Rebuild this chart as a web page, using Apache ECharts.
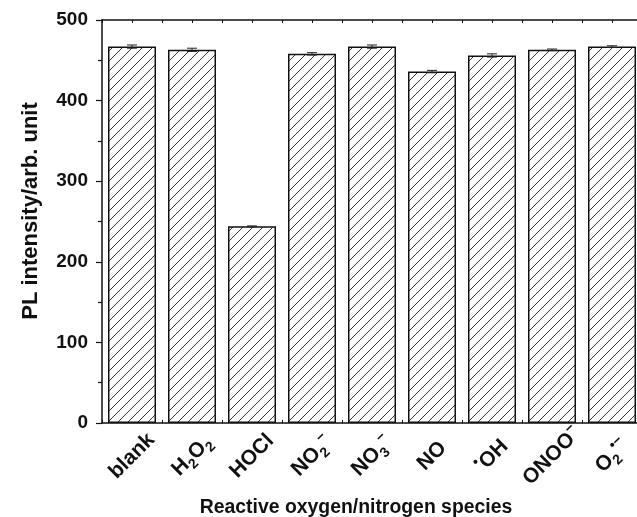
<!DOCTYPE html>
<html>
<head>
<meta charset="utf-8">
<script src="https://cdn.jsdelivr.net/npm/echarts@6/dist/echarts.min.js"></script>
<style>
html,body{margin:0;padding:0;background:#fff;}
#chart{width:637px;height:517px;}
</style>
</head>
<body>
<div id="chart"></div>
<script>
// ---- data ----
const categories = ['blank', 'H2O2', 'HOCl', 'NO2-', 'NO3-', 'NO', 'OH', 'ONOO-', 'O2-'];
const categoryLabels = [
  'blank',
  'H{sub|2}O{sub|2}',
  'HOCl',
  'NO{sub|2}{sup|\u2212}',
  'NO{sub|3}{sup|\u2212}',
  'NO',
  '{sup|\u2022}OH',
  'ONOO{sup|\u2212}',
  'O{sub|2}{sup|\u2022\u2212}'
];
const intensity = [467, 463, 244, 458, 467, 436, 456, 463, 467];
const errors = [2, 2, 0.5, 1.5, 2, 1.5, 2, 1, 1];
const yTicks = [0, 100, 200, 300, 400, 500];

function hatch() {
  const c = document.createElement('canvas');
  const p = 10;
  c.width = p; c.height = p;
  const g = c.getContext('2d');
  g.fillStyle = '#fff';
  g.fillRect(0, 0, p, p);
  g.strokeStyle = '#333';
  g.lineWidth = 1;
  g.beginPath();
  g.moveTo(-p, 2 * p); g.lineTo(2 * p, -p);
  g.moveTo(-p, p); g.lineTo(p, -p);
  g.moveTo(0, 2 * p); g.lineTo(2 * p, 0);
  g.stroke();
  return c;
}

const FONT = 'Liberation Sans, Arial, Helvetica, sans-serif';
const chart = echarts.init(document.getElementById('chart'), null, {renderer: 'canvas'});

const gridBox = {left: 102, top: 20, width: 540, height: 403};

const richStyles = {
  sub: {fontSize: 14, fontWeight: 'bold', fontFamily: FONT, color: '#111', verticalAlign: 'bottom', lineHeight: 10},
  sup: {fontSize: 14, fontWeight: 'bold', fontFamily: FONT, color: '#111', verticalAlign: 'top', lineHeight: 10}
};

const option = {
  animation: false,
  backgroundColor: '#fff',
  grid: Object.assign({containLabel: false, outerBoundsMode: 'none'}, gridBox),
  xAxis: [
    {
      type: 'category',
      data: categories,
      position: 'bottom',
      axisLine: {show: true, onZero: false, lineStyle: {color: '#111', width: 1.5}},
      axisTick: {show: true, inside: true, length: 3, alignWithLabel: false, lineStyle: {color: '#111'}},
      axisLabel: {
        interval: 0,
        rotate: 45,
        align: 'center',
        verticalAlign: 'middle',
        margin: 33,
        color: '#111',
        fontFamily: FONT,
        fontWeight: 'bold',
        fontSize: 21,
        hideOverlap: false,
        formatter: function (v, i) { return categoryLabels[i]; },
        rich: richStyles,
        lineHeight: 28
      },
      splitLine: {show: false}
    },
    {
      type: 'value',
      position: 'top',
      min: -0.5, max: 8.5, interval: 0.5,
      axisLine: {show: true, onZero: false, lineStyle: {color: '#111', width: 1.5}},
      axisTick: {show: true, inside: true, length: 3, lineStyle: {color: '#111'}},
      axisLabel: {show: false},
      splitLine: {show: false}
    },
    {
      type: 'value',
      position: 'bottom',
      min: -0.5, max: 8.5, interval: 0.5,
      axisLine: {show: false, onZero: false},
      axisTick: {show: true, inside: true, length: 3, lineStyle: {color: '#111'}},
      axisLabel: {show: false},
      splitLine: {show: false}
    }
  ],
  yAxis: {
    type: 'value',
    min: yTicks[0],
    max: yTicks[yTicks.length - 1],
    interval: 100,
    axisLine: {show: true, onZero: false, lineStyle: {color: '#111', width: 1.5}},
    axisTick: {show: true, inside: false, length: 6, lineStyle: {color: '#111', width: 1.2}},
    minorTick: {show: true, splitNumber: 2, length: 4, lineStyle: {color: '#111', width: 1.2}},
    axisLabel: {
      margin: 14,
      color: '#111',
      fontFamily: FONT,
      fontWeight: 'bold',
      fontSize: 19
    },
    splitLine: {show: false}
  },
  graphic: [
    {
      type: 'text',
      x: 31, y: 211,
      rotation: Math.PI / 2,
      style: {
        text: 'PL intensity/arb. unit',
        fill: '#111',
        font: 'bold 22px ' + FONT,
        align: 'center',
        verticalAlign: 'middle'
      }
    },
    {
      type: 'text',
      x: 356, y: 508,
      style: {
        text: 'Reactive oxygen/nitrogen species',
        fill: '#111',
        font: 'bold 19.4px ' + FONT,
        align: 'center',
        verticalAlign: 'middle'
      }
    }
  ],
  series: [
    {
      type: 'bar',
      xAxisIndex: 0,
      data: intensity,
      barWidth: '80%',
      itemStyle: {
        color: {image: hatch(), repeat: 'repeat'},
        borderColor: '#111',
        borderWidth: 1.5
      }
    },
    {
      type: 'custom',
      xAxisIndex: 0,
      data: intensity.map(function (v, i) { return [i, v - errors[i], v + errors[i]]; }),
      renderItem: function (params, api) {
        const lo = api.coord([api.value(0), api.value(1)]);
        const hi = api.coord([api.value(0), api.value(2)]);
        const hw = 5;
        const st = {stroke: '#222', lineWidth: 1};
        return {
          type: 'group',
          children: [
            {type: 'line', shape: {x1: hi[0], y1: hi[1], x2: lo[0], y2: lo[1]}, style: st},
            {type: 'line', shape: {x1: hi[0] - hw, y1: hi[1], x2: hi[0] + hw, y2: hi[1]}, style: st},
            {type: 'line', shape: {x1: lo[0] - hw, y1: lo[1], x2: lo[0] + hw, y2: lo[1]}, style: st}
          ]
        };
      },
      z: 5
    }
  ]
};
chart.setOption(option);
</script>
</body>
</html>
